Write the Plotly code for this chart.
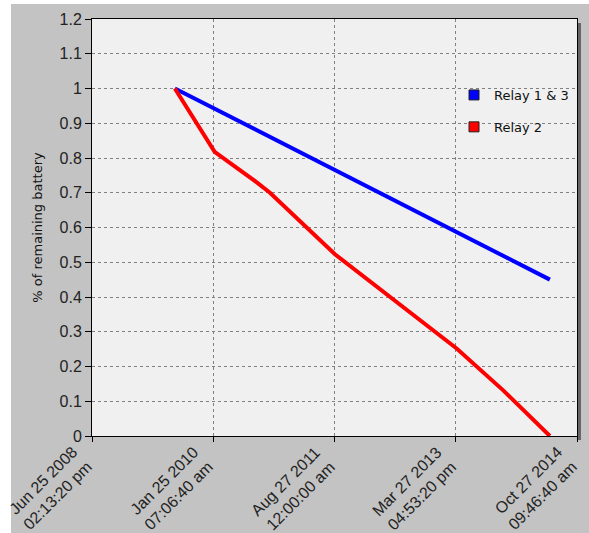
import plotly.graph_objects as go
from datetime import datetime, timedelta

# ---- data ----
relay13_dates = ["2009-07-26", "2014-06-20"]
relay13_values = [1.0, 0.45]

relay2_dates = ["2009-07-26", "2010-02-01", "2010-08-21", "2010-10-23", "2011-08-29",
                "2012-05-17", "2013-04-01", "2013-11-08", "2014-06-20"]
relay2_values = [1.0, 0.818, 0.73, 0.70, 0.523, 0.40, 0.252, 0.132, 0.0]

tick_dates = ["2008-06-25 14:13:20", "2010-01-25 07:06:40", "2011-08-27 00:00:00",
              "2013-03-27 16:53:20", "2014-10-27 09:46:40"]
tick_labels = ["Jun 25 2008<br>02:13:20 pm", "Jan 25 2010<br>07:06:40 am",
               "Aug 27 2011<br>12:00:00 am", "Mar 27 2013<br>04:53:20 pm",
               "Oct 27 2014<br>09:46:40 am"]
y_ticks = [0, 0.1, 0.2, 0.3, 0.4, 0.5, 0.6, 0.7, 0.8, 0.9, 1, 1.1, 1.2]
y_tick_labels = ["0", "0.1", "0.2", "0.3", "0.4", "0.5", "0.6", "0.7", "0.8", "0.9", "1", "1.1", "1.2"]

series_names = ["Relay 1 & 3", "Relay 2"]
series_colors = ["#0000ff", "#ff0000"]

W, H = 589, 533
L, R, T, B = 92, 12, 19, 97
pw, ph = W - L - R, H - T - B

def px_x(x):
    return (x - L) / pw

def px_y(y):
    return (H - B - y) / ph

fmt = "%Y-%m-%d %H:%M:%S"
x_end = (datetime.strptime(tick_dates[-1], fmt) + timedelta(minutes=1)).strftime(fmt)

fig = go.Figure()
fig.add_trace(go.Scatter(x=relay13_dates, y=relay13_values, mode="lines",
                         line=dict(color=series_colors[0], width=4), showlegend=False))
fig.add_trace(go.Scatter(x=relay2_dates, y=relay2_values, mode="lines",
                         line=dict(color=series_colors[1], width=4), showlegend=False))
for i, (n, c) in enumerate(zip(series_names, series_colors)):
    fig.add_trace(go.Scatter(x=[None], y=[None], mode="markers", name=n,
                             legendgroup=f"g{i}",
                             marker=dict(symbol="square", size=10, color=c,
                                         line=dict(color="#222222", width=1))))

shapes = [
    dict(type="rect", xref="paper", yref="paper", x0=px_x(0), x1=px_x(11), y0=px_y(H), y1=px_y(0),
         fillcolor="white", line=dict(width=0), layer="above"),
    dict(type="rect", xref="paper", yref="paper", x0=px_x(0), x1=px_x(W), y0=px_y(4), y1=px_y(0),
         fillcolor="white", line=dict(width=0), layer="above"),
    dict(type="rect", xref="paper", yref="paper", x0=px_x(578), x1=px_x(581), y0=px_y(440), y1=px_y(23),
         fillcolor="#666666", line=dict(width=0), layer="above"),
]

tick_font = dict(family="Liberation Sans, Arial, sans-serif", size=16, color="#222222")

# rotated x tick labels as annotations anchored at the axis tick positions
annotations = [
    dict(x=d, y=0, xref="x", yref="paper", text=t, showarrow=False,
         textangle=-45, xanchor="right", yanchor="top", align="right",
         xshift=5, yshift=-6, borderpad=0, font=tick_font)
    for d, t in zip(tick_dates, tick_labels)
]

fig.update_layout(
    width=W, height=H,
    margin=dict(l=L, r=R, t=T, b=B, pad=0, autoexpand=False),
    paper_bgcolor="#c3c3c3",
    plot_bgcolor="#f0f0f0",
    shapes=shapes,
    annotations=annotations,
    showlegend=True,
    legend=dict(x=px_x(454), y=px_y(80), xanchor="left", yanchor="top",
                bgcolor="rgba(0,0,0,0)", traceorder="grouped", tracegroupgap=12,
                font=dict(family="DejaVu Sans, sans-serif", size=13, color="#111111")),
    xaxis=dict(
        type="date",
        range=[tick_dates[0], x_end],
        tickmode="array", tickvals=tick_dates, ticktext=tick_labels,
        showticklabels=False,
        ticks="outside", ticklen=5, tickcolor="#000000",
        showline=True, linecolor="#000000", linewidth=1, mirror=True,
        showgrid=True, gridcolor="#808080", griddash="dot", gridwidth=1,
        zeroline=False, automargin=False,
    ),
    yaxis=dict(
        range=[0, 1.2],
        tickmode="array", tickvals=y_ticks, ticktext=y_tick_labels,
        tickfont=tick_font, ticklabeloverflow="allow",
        ticks="outside", ticklen=6, tickcolor="#000000",
        showline=True, linecolor="#000000", linewidth=1, mirror=True,
        showgrid=True, gridcolor="#808080", griddash="dot", gridwidth=1,
        zeroline=False, automargin=False,
        title=dict(text="% of remaining battery", standoff=13,
                   font=dict(family="DejaVu Sans, sans-serif", size=13, color="#111111")),
    ),
)

fig.write_html("out.html", post_script="document.body.style.margin='0';",
               config={"displayModeBar": False})
